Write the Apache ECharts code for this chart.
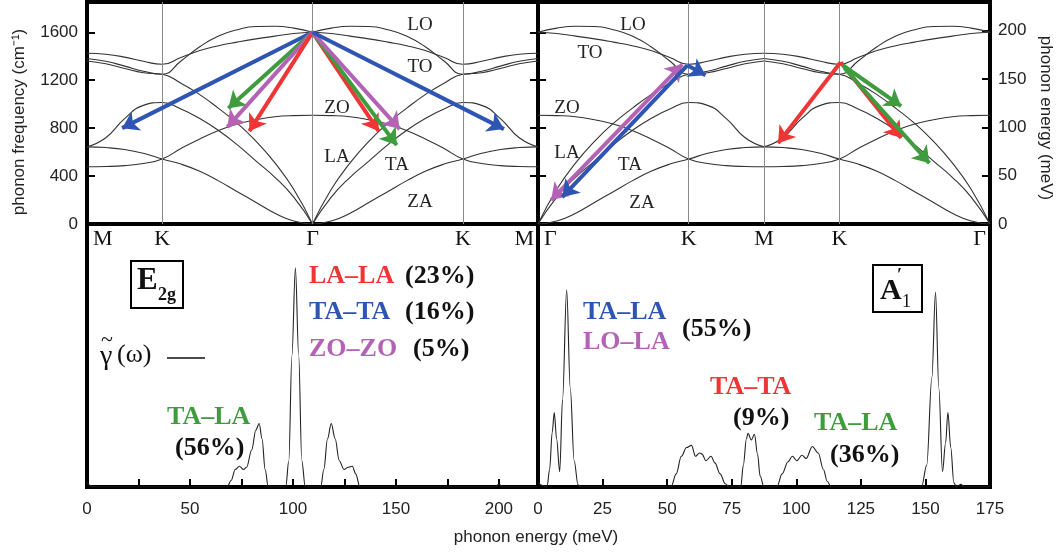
<!DOCTYPE html>
<html lang="en">
<head>
<meta charset="UTF-8">
<title>Graphene phonon dispersion</title>
<style>
  html, body { margin: 0; padding: 0; background: #fff; }
  #main { width: 1062px; height: 556px; }
</style>
<script src="https://cdn.jsdelivr.net/npm/echarts@6/dist/echarts.min.js"></script>
</head>
<body>
<div id="main"></div>
<script>
// path coordinate along Γ-K-M: Γ = 0, K = 2, M = 3 (in units of |KM|)
let sPath  = [0, 0.25, 0.5, 0.75, 1, 1.25, 1.5, 1.75, 2, 2.25, 2.5, 2.75, 3];
// phonon branches, cm^-1
let bandLO = [1600, 1635, 1650, 1648, 1622, 1570, 1480, 1360, 1250, 1275, 1318, 1358, 1381];
let bandTO = [1600, 1590, 1568, 1545, 1518, 1488, 1448, 1390, 1333, 1358, 1393, 1417, 1425];
let bandZO = [908, 905, 895, 870, 835, 780, 710, 630, 542, 505, 487, 480, 478];
let bandLA = [0, 290, 510, 690, 840, 965, 1080, 1175, 1250, 1262, 1298, 1338, 1361];
let bandTA = [0, 225, 390, 525, 660, 780, 880, 960, 1014, 990, 880, 720, 644];
let bandZA = [0, 25, 90, 180, 270, 360, 440, 500, 542, 590, 622, 638, 644];
let bands = [bandLO, bandTO, bandZO, bandLA, bandTA, bandZA];

// high symmetry points of the two paths
let symLeft = ['M', 'K', 'Γ', 'K', 'M'];
let symLeftPos = [0, 1, 3, 5, 6];
let symRight = ['Γ', 'K', 'M', 'K', 'Γ'];
let symRightPos = [0, 2, 3, 4, 6];

// double resonance processes: [process, x0, f0, x1, f1] in path units / cm^-1
let arrowsLeft = [
    ['TA-TA', 3, 1600, 0.467, 800],
    ['TA-LA', 3, 1600, 1.88, 967],
    ['ZO-ZO', 3, 1600, 1.867, 808],
    ['LA-LA', 3, 1600, 2.16, 775],
    ['LA-LA', 3, 1600, 3.88, 775],
    ['TA-LA', 3, 1600, 4.12, 658],
    ['ZO-ZO', 3, 1600, 4.16, 792],
    ['TA-TA', 3, 1600, 5.547, 792]
];
let arrowsRight = [
    ['LO-LA', 0.174, 200, 1.915, 1333],
    ['TA-LA a', 1.982, 1325, 0.321, 225],
    ['TA-LA a', 1.982, 1325, 2.223, 1242],
    ['TA-TA', 4.018, 1350, 3.187, 675],
    ['TA-TA', 4.018, 1350, 4.821, 717],
    ['TA-LA b', 4.045, 1325, 4.821, 983],
    ['TA-LA b', 4.07, 1300, 5.196, 508]
];

// Raman line shapes (meV, arb. units)
let e2gEnergy = [0, 2, 5, 68, 70, 72, 74, 76, 77.5, 80, 82, 83.6, 85, 86.5, 88, 96.5, 98, 99.5, 101.2, 102.8, 104.3, 106, 113.5, 115, 116.8, 118.6, 120.5, 122.5, 124.8, 126.8, 128.8, 130.5, 132.5, 198, 200, 202, 219];
let e2gGamma  = [0.02, 0.005, 0, 0, 0.03, 0.08, 0.095, 0.08, 0.09, 0.17, 0.26, 0.29, 0.22, 0.08, 0, 0, 0.12, 0.6, 1.0, 0.6, 0.12, 0, 0, 0.08, 0.22, 0.29, 0.22, 0.12, 0.08, 0.09, 0.095, 0.06, 0, 0, 0.012, 0, 0];
let a1Energy = [0, 1.5, 3.5, 4.5, 5.5, 6.3, 7.2, 8.4, 9.5, 11.1, 12.5, 14, 15.5, 16.5, 51.5, 53.5, 55.5, 57.5, 59.4, 61, 62.5, 63.5, 65, 67, 68.5, 70.5, 72.5, 74, 78.5, 79.5, 80.7, 81.3, 82.6, 83.8, 85, 86, 87.5, 92.5, 94.5, 96.8, 98.5, 100.2, 102.2, 103.8, 106.2, 108.5, 110.5, 112, 113.5, 148.5, 150.5, 152.5, 153.9, 155.2, 156.6, 157.8, 158.7, 159.8, 161, 162, 163.8, 165, 175];
let a1Gamma  = [0.02, 0.008, 0, 0.08, 0.25, 0.34, 0.22, 0.07, 0.4, 0.9, 0.45, 0.12, 0.01, 0, 0, 0.06, 0.14, 0.18, 0.19, 0.14, 0.155, 0.15, 0.12, 0.14, 0.11, 0.06, 0.015, 0, 0, 0.1, 0.22, 0.245, 0.215, 0.24, 0.15, 0.05, 0, 0, 0.06, 0.115, 0.14, 0.12, 0.145, 0.13, 0.185, 0.155, 0.08, 0.025, 0, 0, 0.1, 0.5, 0.89, 0.45, 0.07, 0.2, 0.34, 0.18, 0.02, 0, 0.012, 0, 0];

let red = '#ef3535', green = '#3e9c3e', blue = '#2f55b4', magenta = '#b463b4';
let leftColors = { 'LA-LA': red, 'TA-TA': blue, 'ZO-ZO': magenta, 'TA-LA': green };
let rightColors = { 'TA-LA a': blue, 'LO-LA': magenta, 'TA-TA': red, 'TA-LA b': green };
let doubleHead = { 'LO-LA': true };

let serif = '"Liberation Serif", "DejaVu Serif", serif';
let sans = '"Liberation Sans", Arial, sans-serif';

let chart = echarts.init(document.getElementById('main'));

function half(band, map) {
    return sPath.map((s, i) => [map(s), band[i]]);
}

let series = [];
// dispersion curves, left panel M-K-Γ-K-M, right panel Γ-K-M-K-Γ
bands.forEach((b, bi) => {
    [[0, s => 3 - s], [0, s => 3 + s], [1, s => s], [1, s => 6 - s]].forEach((p, pi) => {
        let ser = {
            type: 'line', xAxisIndex: p[0], yAxisIndex: p[0] === 0 ? 0 : 2,
            data: half(b, p[1]), smooth: 0.5, showSymbol: false, silent: true,
            lineStyle: { color: '#333', width: 1.1 }, z: 3
        };
        if (bi === 0 && (pi === 0 || pi === 2)) {
            let pos = pi === 0 ? symLeftPos : symRightPos;
            ser.markLine = {
                silent: true, symbol: ['none', 'none'], label: { show: false },
                lineStyle: { color: '#8a8a8a', width: 1, type: 'solid' },
                data: pos.slice(1, -1).map(x => ({ xAxis: x }))
            };
        }
        series.push(ser);
    });
});

function arrowSeries(list, colors, xi, yi) {
    list.forEach(a => {
        series.push({
            type: 'lines', coordinateSystem: 'cartesian2d', xAxisIndex: xi, yAxisIndex: yi,
            symbol: doubleHead[a[0]] ? ['arrow', 'arrow'] : ['none', 'arrow'],
            symbolSize: 16, silent: true, z: 5,
            lineStyle: { color: colors[a[0]], width: 4, opacity: 1 },
            data: [{ coords: [[a[1], a[2]], [a[3], a[4]]] }]
        });
    });
}
arrowSeries(arrowsLeft, leftColors, 0, 0);
arrowSeries(arrowsRight, rightColors, 1, 2);

series.push({
    type: 'line', xAxisIndex: 2, yAxisIndex: 4, showSymbol: false, silent: true,
    smooth: 0.35, smoothMonotone: 'x',
    data: e2gEnergy.map((e, i) => [e, e2gGamma[i]]),
    lineStyle: { color: '#222', width: 1.1 }
});
series.push({
    type: 'line', xAxisIndex: 3, yAxisIndex: 5, showSymbol: false, silent: true,
    smooth: 0.35, smoothMonotone: 'x',
    data: a1Energy.map((e, i) => [e, a1Gamma[i]]),
    lineStyle: { color: '#222', width: 1.1 }
});

let gridBase = { show: true, borderColor: '#000', borderWidth: 4, containLabel: false, outerBoundsMode: 'none' };
let tickIn = { inside: true, length: 8, lineStyle: { color: '#000', width: 2 } };
let noAxis = { axisLine: { show: false }, axisTick: { show: false }, axisLabel: { show: false }, splitLine: { show: false } };

let option = {
    animation: false,
    backgroundColor: '#fff',
    grid: [
        Object.assign({ left: 87, top: 2, width: 451, height: 222 }, gridBase),
        Object.assign({ left: 538, top: 2, width: 452, height: 222 }, gridBase),
        Object.assign({ left: 87, top: 224, width: 451, height: 263 }, gridBase),
        Object.assign({ left: 538, top: 224, width: 452, height: 263 }, gridBase)
    ],
    xAxis: [
        Object.assign({ type: 'value', gridIndex: 0, min: 0, max: 6 }, noAxis),
        Object.assign({ type: 'value', gridIndex: 1, min: 0, max: 6 }, noAxis),
        {
            type: 'value', gridIndex: 2, min: 0, max: 219, interval: 25,
            axisLine: { show: false }, axisTick: tickIn, splitLine: { show: false },
            axisLabel: { fontSize: 17, color: '#222', fontFamily: sans, margin: 14,
                formatter: v => (v % 50 === 0 ? String(v) : '') }
        },
        {
            type: 'value', gridIndex: 3, min: 0, max: 175, interval: 25,
            axisLine: { show: false }, axisTick: tickIn, splitLine: { show: false },
            axisLabel: { fontSize: 17, color: '#222', fontFamily: sans, margin: 14,
                formatter: v => (v % 25 === 0 ? String(v) : '') }
        }
    ],
    yAxis: [
        {
            type: 'value', gridIndex: 0, position: 'left', min: 0, max: 1853, interval: 400,
            axisLine: { show: false }, axisTick: tickIn, splitLine: { show: false },
            axisLabel: { fontSize: 17, color: '#222', fontFamily: sans, margin: 9,
                formatter: v => (v % 400 === 0 ? String(v) : '') }
        },
        {
            type: 'value', gridIndex: 0, position: 'right', min: 0, max: 1853, interval: 400,
            axisLine: { show: false }, axisTick: tickIn, axisLabel: { show: false }, splitLine: { show: false }
        },
        {
            type: 'value', gridIndex: 1, position: 'left', min: 0, max: 1853, interval: 400,
            axisLine: { show: false }, axisTick: tickIn, axisLabel: { show: false }, splitLine: { show: false }
        },
        {
            type: 'value', gridIndex: 1, position: 'right', min: 0, max: 229.7, interval: 50,
            axisLine: { show: false }, axisTick: tickIn, splitLine: { show: false },
            axisLabel: { fontSize: 17, color: '#222', fontFamily: sans, margin: 8,
                formatter: v => (v % 50 === 0 ? String(v) : '') }
        },
        Object.assign({ type: 'value', gridIndex: 2, min: 0, max: 1.2 }, noAxis),
        Object.assign({ type: 'value', gridIndex: 3, min: 0, max: 1.2 }, noAxis)
    ],
    series: series
};
chart.setOption(option);

function txt(x, y, text, font, extra) {
    return {
        type: 'text', x: x, y: y, z: 20, silent: true,
        style: Object.assign({ text: text, font: font, fill: '#111', align: 'center', verticalAlign: 'middle' }, extra || {})
    };
}

let g = [];
// symmetry point labels under the dispersion panels
function symLabels(names, pos, gi) {
    names.forEach((n, i) => {
        let px = chart.convertToPixel({ gridIndex: gi }, [pos[i], 0]);
        let align = 'center', x = px[0];
        if (i === 0) { align = 'left'; x += 6; }
        if (i === names.length - 1) { align = 'right'; x -= 4; }
        g.push(txt(x, 239, n, '22px ' + serif, { align: align }));
    });
}
symLabels(symLeft, symLeftPos, 0);
symLabels(symRight, symRightPos, 1);

// branch names
let bf = '19px ' + serif;
[['LO', 420, 25], ['TO', 420, 67], ['ZO', 337, 108], ['LA', 337, 157], ['TA', 397, 165], ['ZA', 420, 202],
 ['LO', 633, 25], ['TO', 590, 53], ['ZO', 567, 108], ['LA', 567, 153], ['TA', 630, 165], ['ZA', 642, 203]]
    .forEach(t => g.push(txt(t[1], t[2], t[0], bf, { fill: '#222' })));

// axis titles
let yt = txt(19, 122, 'phonon frequency (cm⁻¹)', '17px ' + sans, { fill: '#222' });
yt.rotation = Math.PI / 2;
g.push(yt);
let yr = txt(1046, 118, 'phonon energy (meV)', '17px ' + sans, { fill: '#222' });
yr.rotation = -Math.PI / 2;
g.push(yr);
g.push(txt(536, 537, 'phonon energy (meV)', '17px ' + sans, { fill: '#222' }));

// process labels
let pf = 'bold 26px ' + serif;
[['LA–LA', 309, 276, red], ['(23%)', 405, 276, '#111'],
 ['TA–TA', 309, 312, blue], ['(16%)', 405, 312, '#111'],
 ['ZO–ZO', 309, 349, magenta], ['(5%)', 413, 349, '#111'],
 ['TA–LA', 167, 417, green], ['(56%)', 175, 448, '#111'],
 ['TA–LA', 583, 312, blue], ['LO–LA', 583, 342, magenta], ['(55%)', 682, 329, '#111'],
 ['TA–TA', 710, 387, red], ['(9%)', 733, 418, '#111'],
 ['TA–LA', 814, 423, green], ['(36%)', 830, 455, '#111']]
    .forEach(t => g.push(txt(t[1], t[2], t[0], pf, { fill: t[3], align: 'left' })));

// mode boxes
g.push({ type: 'rect', z: 20, silent: true, shape: { x: 131, y: 261, width: 52, height: 47 },
    style: { fill: 'none', stroke: '#000', lineWidth: 2 } });
g.push(txt(137, 281, 'E', 'bold 31px ' + serif, { align: 'left' }));
g.push(txt(158, 295, '2g', 'bold 18px ' + serif, { align: 'left' }));
g.push({ type: 'rect', z: 20, silent: true, shape: { x: 873, y: 265, width: 49, height: 47 },
    style: { fill: 'none', stroke: '#000', lineWidth: 2 } });
g.push(txt(880, 291, 'A', 'bold 30px ' + serif, { align: 'left' }));
g.push(txt(902, 302, '1', '18px ' + serif, { align: 'left' }));
g.push(txt(897, 276, '′', 'bold 18px ' + serif, { align: 'left' }));

// legend of the line shape: γ with a tilde, then (ω) and a line sample
g.push(txt(100, 357, 'γ', '28px ' + serif, { align: 'left' }));
g.push(txt(101, 340, '~', '22px ' + serif, { align: 'left' }));
g.push(txt(117, 355, '(ω)', '26px ' + serif, { align: 'left' }));
g.push({ type: 'line', z: 20, silent: true, shape: { x1: 167, y1: 358, x2: 205, y2: 358 },
    style: { stroke: '#111', lineWidth: 1.5 } });

chart.setOption({ graphic: g });
</script>
</body>
</html>
